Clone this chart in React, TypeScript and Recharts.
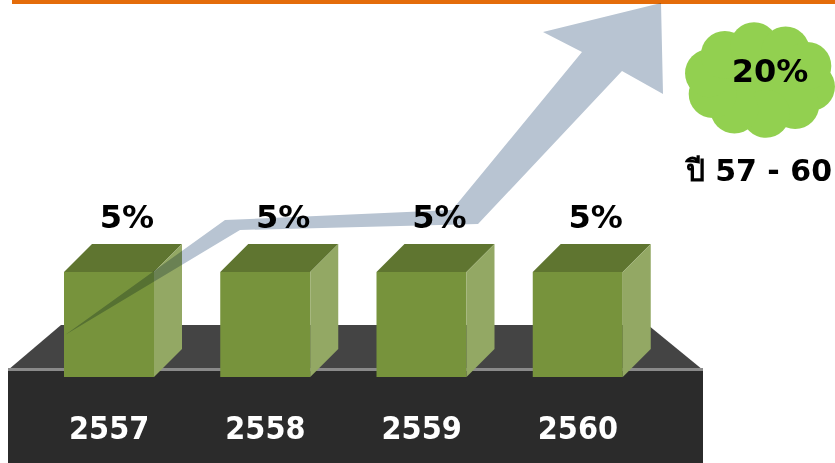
import React from "react";
import { BarChart, Bar, XAxis, YAxis, LabelList, Customized } from "recharts";

const years = ["2557", "2558", "2559", "2560"];
const growth = [5, 5, 5, 5];
const growthLabels = ["5%", "5%", "5%", "5%"];
const totalLabel = "20%";
const periodLabel = "ปี 57 - 60";

const data = years.map((y, i) => ({ year: y, value: growth[i], label: growthLabels[i] }));

const W = 835;
const H = 463;
const DEPTH = 28;
const FONT = "'DejaVu Sans', 'Noto Sans', sans-serif";

const Box = (props: any) => {
  const { x, y, width, height } = props;
  const d = DEPTH;
  return (
    <g>
      <rect x={x} y={y} width={width} height={height} fill="#77933C" />
      <polygon
        points={`${x},${y} ${x + d},${y - d} ${x + width + d},${y - d} ${x + width},${y}`}
        fill="#5F7530"
      />
      <polygon
        points={`${x + width},${y} ${x + width + d},${y - d} ${x + width + d},${y + height - d} ${x + width},${y + height}`}
        fill="#93A864"
      />
    </g>
  );
};

const Platform = () => (
  <g>
    <polygon points="8,370 61,325 648,325 703,370" fill="#444444" />
    <rect x={8} y={370} width={695} height={93} fill="#2B2B2B" />
    <rect x={8} y={368} width={695} height={3} fill="#8A8A8A" />
  </g>
);

const cloudBumps = Array.from({ length: 10 }, (_, i) => {
  const a = (i / 10) * Math.PI * 2 + 0.2;
  return { cx: 760 + 52 * Math.cos(a), cy: 80 + 34 * Math.sin(a) };
});

const Decor = () => (
  <g>
    <rect x={12} y={0} width={823} height={4} fill="#E46C0A" />
    <g fill="#92D050">
      <ellipse cx={760} cy={80} rx={62} ry={44} />
      {cloudBumps.map((c, i) => (
        <circle key={i} cx={c.cx} cy={c.cy} r={24} />
      ))}
    </g>
    <text x={770} y={82} textAnchor="middle" fontFamily={FONT} fontWeight="bold" fontSize={32} fill="#000">
      {totalLabel}
    </text>
    <text x={832} y={181} textAnchor="end" fontFamily={FONT} fontWeight="bold" fontSize={30} fill="#000">
      {periodLabel}
    </text>
  </g>
);

const YearTick = (props: any) => {
  const { x, y, payload } = props;
  return (
    <text
      x={x}
      y={y + 62}
      textAnchor="middle"
      fontFamily="'DejaVu Sans Condensed', 'DejaVu Sans', sans-serif"
      fontWeight="bold"
      fontSize={32}
      fill="#FFFFFF"
    >
      {payload.value}
    </text>
  );
};

const PctLabel = (props: any) => {
  const { x, y, width, value } = props;
  return (
    <text
      x={x + width / 2 + 18}
      y={y - 44}
      textAnchor="middle"
      fontFamily={FONT}
      fontWeight="bold"
      fontSize={32}
      fill="#000"
    >
      {value}
    </text>
  );
};

export default function App() {
  return (
    <div style={{ position: "absolute", left: 0, top: 0, width: W, height: H, background: "#fff" }}>
      <BarChart width={W} height={H} data={data} margin={{ top: 62, right: 179, bottom: 0, left: 31 }}>
        <Customized component={Platform} />
        <XAxis
          dataKey="year"
          axisLine={false}
          tickLine={false}
          tickSize={0}
          tickMargin={0}
          height={86}
          tick={<YearTick />}
          interval={0}
        />
        <YAxis hide domain={[0, 15]} />
        <Bar dataKey="value" barSize={90} shape={<Box />} isAnimationActive={false}>
          <LabelList dataKey="label" content={<PctLabel />} />
        </Bar>
        <Customized component={Decor} />
      </BarChart>
      <svg
        width={W}
        height={H}
        style={{ position: "absolute", left: 0, top: 0, pointerEvents: "none", mixBlendMode: "multiply" }}
      >
        <polygon
          points="65,335 225,220 452,210 582,52 543,32 661,3 663,94 622,71 478,224 240,230"
          fill="#B8C4D2"
        />
      </svg>
    </div>
  );
}
